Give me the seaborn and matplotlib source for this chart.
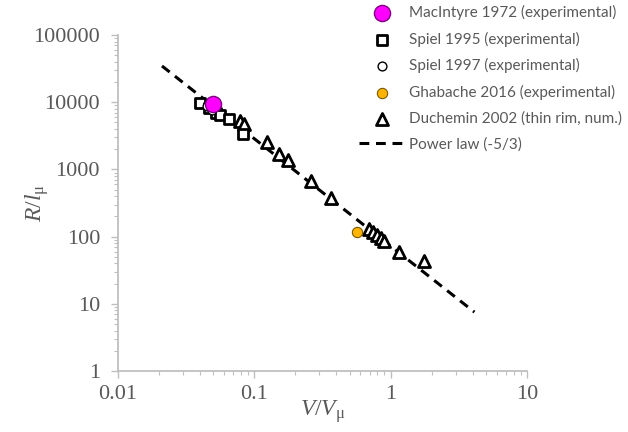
import matplotlib
matplotlib.use("Agg")
import matplotlib.pyplot as plt
import seaborn as sns
import pandas as pd
from matplotlib.ticker import LogLocator, FixedLocator, FixedFormatter, NullFormatter

# ---- data ----
mac_x = [0.0497]
mac_y = [9300]

spiel95_x = [0.0399, 0.0465, 0.0523, 0.0559, 0.0650, 0.0823]
spiel95_y = [9600, 8200, 6900, 6450, 5630, 3370]

spiel97_x = [0.0449, 0.0489]
spiel97_y = [8780, 7650]

ghab_x = [0.564]
ghab_y = [118]

duch_x = [0.0783, 0.0838, 0.1236, 0.151, 0.176, 0.259, 0.363, 0.690, 0.738, 0.789, 0.845, 0.889, 1.16, 1.75]
duch_y = [5250, 4740, 2560, 1690, 1380, 672, 375, 130, 117, 106, 95, 86, 59, 43]

power_x = [0.021, 4.12]
power_y = [34600, 7.55]

x_ticks = [0.01, 0.1, 1, 10]
x_tick_labels = ["0.01", "0.1", "1", "10"]
y_ticks = [1, 10, 100, 1000, 10000, 100000]
y_tick_labels = ["1", "10", "100", "1000", "10000", "100000"]

labels = ["MacIntyre 1972 (experimental)", "Spiel 1995 (experimental)",
          "Spiel 1997 (experimental)", "Ghabache 2016 (experimental)",
          "Duchemin 2002 (thin rim, num.)", "Power law (-5/3)"]

sns.set_theme(style="ticks")
plt.rcParams["mathtext.fontset"] = "custom"
plt.rcParams["mathtext.rm"] = "Liberation Serif"
plt.rcParams["mathtext.it"] = "Liberation Serif:italic"

GRAY = "#595959"
AX = "#bfbfbf"

fig = plt.figure(figsize=(6.28, 4.32), dpi=100)
ax = fig.add_axes([0.188, 0.141, 0.651, 0.778])

sns.lineplot(x=power_x, y=power_y, ax=ax, color="black", lw=2.2,
             linestyle=(0, (3.2, 2.2)), label=labels[5], zorder=2)
sns.scatterplot(x=duch_x, y=duch_y, ax=ax, marker="^", s=75, facecolor="white",
                edgecolor="black", linewidth=2.0, label=labels[4], zorder=3)
sns.scatterplot(x=spiel95_x, y=spiel95_y, ax=ax, marker="s", s=55, facecolor="white",
                edgecolor="black", linewidth=2.0, label=labels[1], zorder=3)
sns.scatterplot(x=spiel97_x, y=spiel97_y, ax=ax, marker="o", s=40, facecolor="white",
                edgecolor="black", linewidth=1.0, label=labels[2], zorder=4)
sns.scatterplot(x=ghab_x, y=ghab_y, ax=ax, marker="o", s=55, facecolor="#ffb400",
                edgecolor="#7a5a00", linewidth=0.8, label=labels[3], zorder=4)
sns.scatterplot(x=mac_x, y=mac_y, ax=ax, marker="o", s=135, facecolor="#ff00ff",
                edgecolor="#800080", linewidth=1.0, label=labels[0], zorder=5)

ax.set_xscale("log")
ax.set_yscale("log")
ax.set_xlim(0.01, 10)
ax.set_ylim(1, 100000)

ax.xaxis.set_major_locator(FixedLocator(x_ticks))
ax.xaxis.set_major_formatter(FixedFormatter(x_tick_labels))
ax.yaxis.set_major_locator(FixedLocator(y_ticks))
ax.yaxis.set_major_formatter(FixedFormatter(y_tick_labels))
ax.xaxis.set_minor_locator(LogLocator(base=10, subs=range(2, 10), numticks=20))
ax.yaxis.set_minor_locator(LogLocator(base=10, subs=range(2, 10), numticks=20))
ax.xaxis.set_minor_formatter(NullFormatter())
ax.yaxis.set_minor_formatter(NullFormatter())

for sp in ["top", "right"]:
    ax.spines[sp].set_visible(False)
for sp in ["left", "bottom"]:
    ax.spines[sp].set_color(AX)
    ax.spines[sp].set_linewidth(1.3)

ax.tick_params(which="major", length=5, width=1.0, color=AX, labelcolor=GRAY,
               labelsize=16, direction="out")
ax.tick_params(axis="y", which="major", pad=8)
ax.tick_params(axis="x", which="major", pad=5)
ax.tick_params(which="minor", length=3, width=0.8, color=AX, direction="out")
for lab in ax.get_xticklabels() + ax.get_yticklabels():
    lab.set_family("Liberation Serif")

ax.set_xlabel(r"$V/V_{\mathrm{μ}}$", fontsize=17, color=GRAY)
ax.set_ylabel(r"$R/l_{\mathrm{μ}}$", fontsize=17, color=GRAY)
ax.xaxis.set_label_coords(0.5, -0.08)
ax.yaxis.set_label_coords(-0.165, 0.5)

handles, labs = ax.get_legend_handles_labels()
order = [labs.index(l) for l in labels]
leg = ax.legend([handles[i] for i in order], [labs[i] for i in order],
                loc="upper left", bbox_to_anchor=(0.575, 1.108), frameon=False,
                prop={"family": "Lato", "size": 11}, labelcolor=GRAY,
                handlelength=3.0, handletextpad=0.25, labelspacing=0.76,
                borderaxespad=0)

fig.savefig("out.png", dpi=100)
